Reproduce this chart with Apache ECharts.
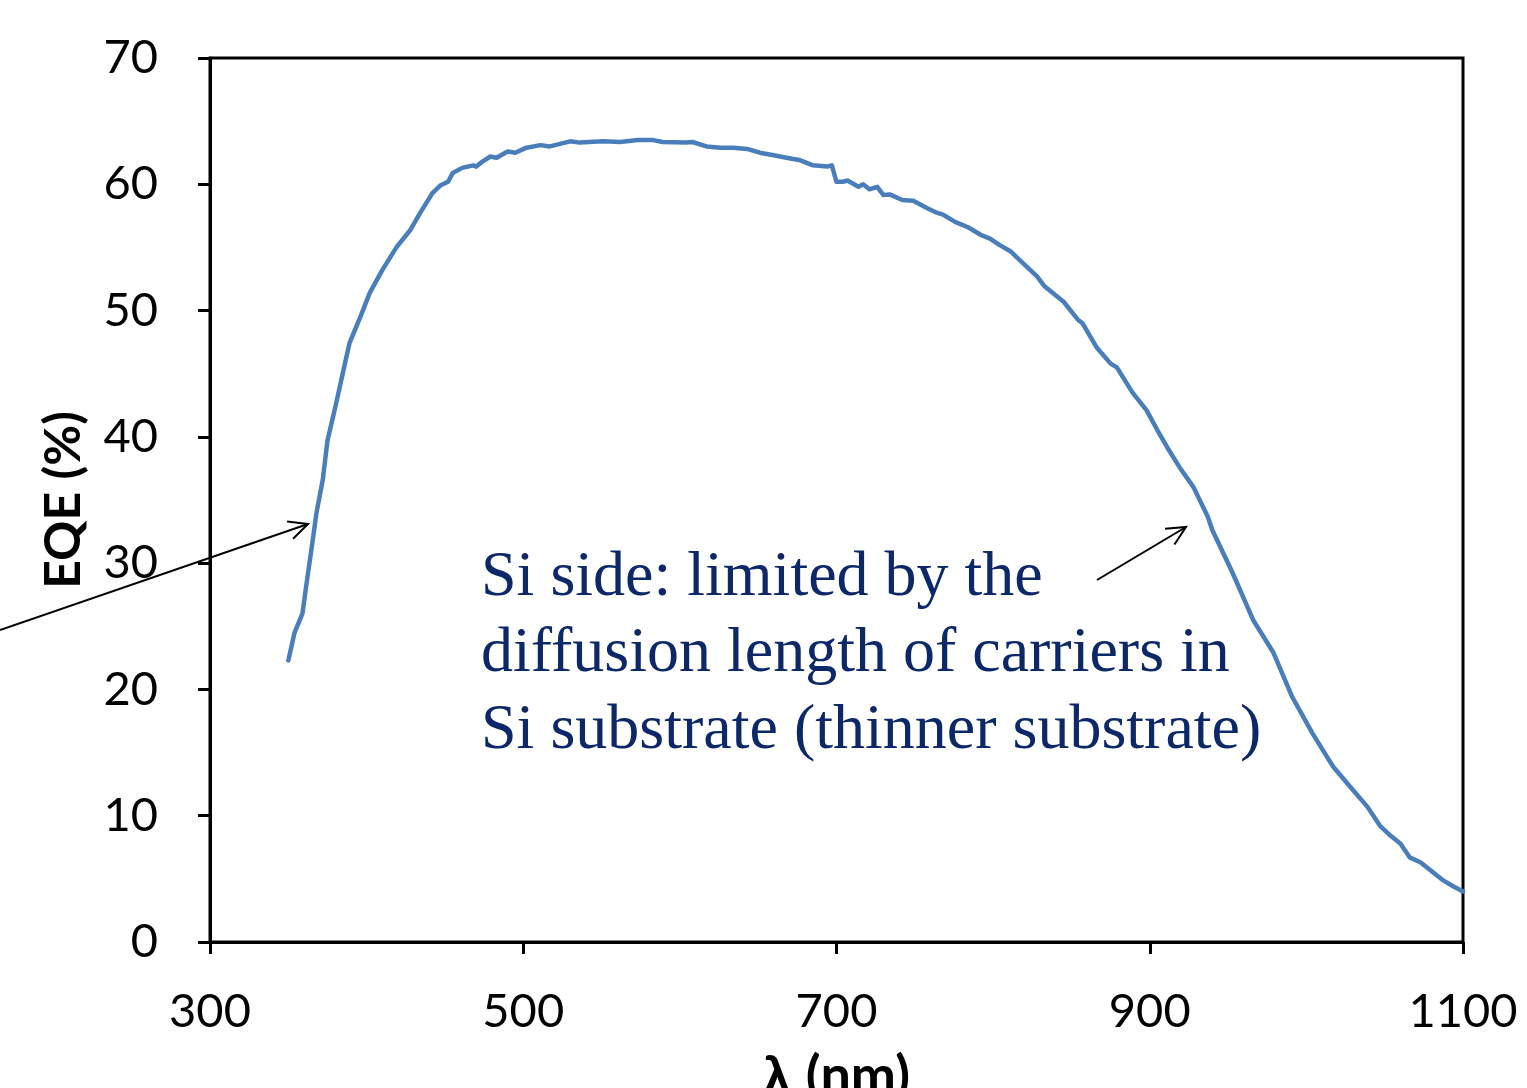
<!DOCTYPE html>
<html>
<head>
<meta charset="utf-8">
<script src="https://cdn.jsdelivr.net/npm/echarts@6/dist/echarts.min.js"></script>
<style>
html,body{margin:0;padding:0;background:#fff;overflow:hidden;}
#main{width:1527px;height:1088px;}
</style>
</head>
<body>
<div id="main"></div>
<script>
// wavelength (nm)
const wavelength = [350,354,359,362,365,368,372,375,378,381,384,389,396,402,410,419,428,434,442,447,452,455,461,468,470,474,479,483,490,495,502,511,517,530,536,551,562,573,583,589,604,608,617,626,634,643,651,660,668,677,685,694,697,700,704,707,714,717,721,726,730,734,742,749,758,763,768,776,784,792,798,804,811,817,828,833,845,854,857,866,875,879,889,898,905,911,919,928,937,940,945,953,966,979,991,1004,1017,1030,1039,1047,1053,1060,1066,1073,1079,1087,1094,1100];
// EQE (%)
const eqe = [22.3,24.5,26.0,28.7,31.3,34.0,36.6,39.7,41.3,42.9,44.6,47.4,49.5,51.4,53.2,55.0,56.4,57.7,59.3,59.9,60.2,60.9,61.3,61.5,61.4,61.8,62.2,62.1,62.6,62.5,62.9,63.1,63.0,63.4,63.3,63.4,63.35,63.5,63.5,63.35,63.3,63.35,63.0,62.9,62.9,62.8,62.5,62.3,62.1,61.9,61.5,61.4,61.5,60.2,60.2,60.3,59.8,60.0,59.6,59.8,59.15,59.2,58.75,58.7,58.1,57.8,57.6,57.0,56.6,56.0,55.7,55.2,54.7,54.0,52.7,51.9,50.7,49.3,49.0,47.1,45.8,45.5,43.5,42.1,40.5,39.2,37.6,36.0,33.7,32.6,31.3,29.2,25.5,22.9,19.4,16.5,13.9,12.0,10.7,9.2,8.5,7.8,6.7,6.3,5.7,4.9,4.4,4.0];
const xTicks = [300,500,700,900,1100];
const yTicks = [0,10,20,30,40,50,60,70];
const noteLines = ['Si side: limited by the','diffusion length of carriers in','Si substrate (thinner substrate)'];

const chart = echarts.init(document.getElementById('main'), null, {renderer:'canvas'});
const labelFont = 'Lato';

function arrow(x1,y1,x2,y2,len,ang){
  const a = Math.atan2(y2-y1,x2-x1);
  const w1 = [x2 - len*Math.cos(a-ang), y2 - len*Math.sin(a-ang)];
  const w2 = [x2 - len*Math.cos(a+ang), y2 - len*Math.sin(a+ang)];
  return [
    {type:'polyline', shape:{points:[[x1,y1],[x2,y2]]}, style:{stroke:'#000',lineWidth:2,fill:null}, z:10},
    {type:'polyline', shape:{points:[w1,[x2,y2],w2]}, style:{stroke:'#000',lineWidth:2,fill:null}, z:10}
  ];
}

const textEls = noteLines.map((t,i)=>({
  type:'text', left:481, top: 546 + i*76.5,
  style:{text:t, fill:'#0c2868', font:'64px "Liberation Serif"'}, z:10
}));

chart.setOption({
  animation:false,
  backgroundColor:'#fff',
  grid:{left:210,right:64,top:58,bottom:146,show:true,borderColor:'#000',borderWidth:3,containLabel:false,outerBoundsMode:'none'},
  xAxis:{
    type:'value', min:300, max:1100, interval:200,
    axisLine:{show:true,onZero:false,lineStyle:{color:'#000',width:3}},
    axisTick:{show:true,inside:false,length:12,lineStyle:{color:'#000',width:3}},
    splitLine:{show:false},
    axisLabel:{show:true,color:'#000',fontFamily:labelFont,fontSize:47,margin:46,
      formatter:v=>xTicks.includes(v)?String(v):''},
    name:'λ (nm)', nameLocation:'middle', nameGap:108,
    nameTextStyle:{color:'#000',fontFamily:labelFont,fontWeight:'bold',fontSize:54}
  },
  yAxis:{
    type:'value', min:0, max:70, interval:10,
    axisLine:{show:true,onZero:false,lineStyle:{color:'#000',width:3}},
    axisTick:{show:true,inside:false,length:12,lineStyle:{color:'#000',width:3}},
    splitLine:{show:false},
    axisLabel:{show:true,color:'#000',fontFamily:labelFont,fontSize:47,margin:52,
      formatter:v=>yTicks.includes(v)?String(v):''},
    name:'EQE (%)', nameLocation:'middle', nameGap:121, nameRotate:90,
    nameTextStyle:{color:'#000',fontFamily:labelFont,fontWeight:'bold',fontSize:50}
  },
  series:[{
    type:'line', data: wavelength.map((w,i)=>[w,eqe[i]]),
    showSymbol:false, symbol:'none', smooth:false,
    lineStyle:{color:'#4a7ebb',width:4.5,join:'round',cap:'round'}, z:5
  }],
  graphic:[
    ...arrow(0,630,308,524,21,0.45),
    ...arrow(1097,580,1186,527,21,0.45),
    ...textEls
  ]
});
</script>
</body>
</html>
